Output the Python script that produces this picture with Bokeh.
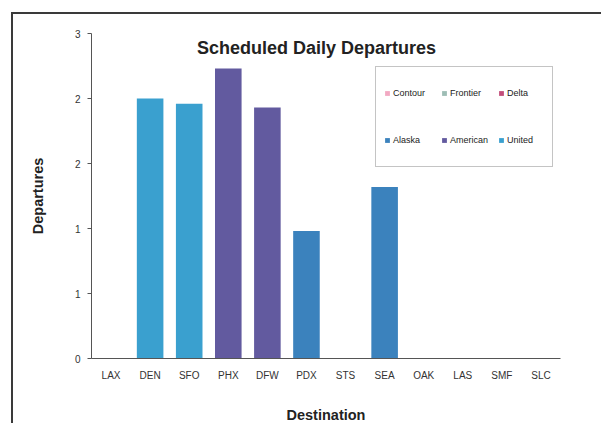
from bokeh.plotting import figure
from bokeh.layouts import column
from bokeh.models import ColumnDataSource, Legend, LegendItem, FixedTicker, Range1d, Div
from bokeh.core.properties import value
from bokeh.embed import file_html
from bokeh.resources import INLINE

destinations = ["LAX", "DEN", "SFO", "PHX", "DFW", "PDX", "STS", "SEA", "OAK", "LAS", "SMF", "SLC"]
airlines = ["Contour", "Frontier", "Delta", "Alaska", "American", "United"]
colors = ["#f2a9c2", "#9dbdb5", "#c24d7a", "#3b82bd", "#625a9f", "#3aa0cf"]

contour = [0, 0, 0, 0, 0, 0, 0, 0, 0, 0, 0, 0]
frontier = [0, 0, 0, 0, 0, 0, 0, 0, 0, 0, 0, 0]
delta = [0, 0, 0, 0, 0, 0, 0, 0, 0, 0, 0, 0]
alaska = [0, 0, 0, 0, 0, 0.98, 0, 1.32, 0, 0, 0, 0]
american = [0, 0, 0, 2.23, 1.93, 0, 0, 0, 0, 0, 0, 0]
united = [0, 2.0, 1.96, 0, 0, 0, 0, 0, 0, 0, 0, 0]

y_ticks = [0, 0.5, 1, 1.5, 2, 2.5]
y_tick_labels = ["0", "1", "1", "2", "2", "3"]

title_text = "Scheduled Daily Departures"
x_title = "Destination"
y_title = "Departures"

FONT = "Liberation Sans"

source = ColumnDataSource(dict(dest=destinations, Contour=contour, Frontier=frontier,
                               Delta=delta, Alaska=alaska, American=american, United=united))

p = figure(x_range=destinations, y_range=Range1d(0, 2.5),
           frame_width=469, frame_height=325, output_backend="svg", toolbar_location=None,
           min_border_left=78, min_border_right=30, min_border_top=19, min_border_bottom=60,
           styles={"box-shadow": "-2px -2px 0 0 #3a3a3a"})
p.margin = (0, 0, 0, 13)
p.outline_line_color = None
p.xgrid.grid_line_color = None
p.ygrid.grid_line_color = None

p.vbar_stack(airlines, x="dest", width=0.68, color=colors, line_color=None, source=source)

# legend proxies (small squares); the legend fills column by column
proxies = {}
for name, c in zip(airlines, colors):
    proxies[name] = p.scatter(x=[destinations[0]], y=[float("nan")], marker="square",
                              fill_color=c, line_color=None)
legend_order = ["Contour", "Alaska", "Frontier", "American", "Delta", "United"]
items = [LegendItem(label=n, renderers=[proxies[n]]) for n in legend_order]

legend = Legend(items=items, orientation="vertical", nrows=2, location=(284, 191),
                padding=5, spacing=5, glyph_width=12, glyph_height=42, label_height=42,
                label_width=40, label_standoff=0,
                label_text_font=FONT, label_text_font_size="9px", label_text_color="#222222",
                border_line_color="#8a8a8a", border_line_width=1, background_fill_alpha=1.0,
                margin=0)
p.add_layout(legend)

# chart title inside plot area
tsrc = ColumnDataSource(dict(x=["PDX"], y=[2.39], t=[title_text]))
p.text(x="x", y="y", text="t", source=tsrc, x_offset=10, text_align="center",
       text_baseline="middle", text_font=value(FONT), text_font_size="18px",
       text_font_style="bold", text_color="#222222")

# y axis
ya = p.yaxis[0]
ya.ticker = FixedTicker(ticks=y_ticks)
ya.major_label_overrides = {t: l for t, l in zip(y_ticks, y_tick_labels)}
ya.minor_tick_line_color = None
ya.major_tick_in = 0
ya.major_tick_out = 4
ya.major_label_standoff = 7
ya.axis_line_color = "#555555"
ya.major_tick_line_color = "#555555"
ya.major_label_text_font = FONT
ya.major_label_text_font_size = "10px"
ya.major_label_text_color = "#333333"
ya.axis_label = y_title
ya.axis_label_text_font = FONT
ya.axis_label_text_font_size = "14.5px"
ya.axis_label_text_font_style = "bold"
ya.axis_label_text_color = "#222222"
ya.axis_label_standoff = 26

# x axis
xa = p.xaxis[0]
xa.major_tick_line_color = None
xa.major_tick_in = 0
xa.major_tick_out = 0
xa.major_label_standoff = 11
xa.axis_line_color = "#555555"
xa.major_label_text_font = FONT
xa.major_label_text_font_size = "10px"
xa.major_label_text_color = "#333333"
xa.axis_label = x_title
xa.axis_label_text_font = FONT
xa.axis_label_text_font_size = "14.5px"
xa.axis_label_text_font_style = "bold"
xa.axis_label_text_color = "#222222"
xa.axis_label_standoff = 23

# top edge of the outer chart border
top_rule = Div(text="", width=590, height=2, styles={"background-color": "#3a3a3a"})
top_rule.margin = (12, 0, 0, 11)

layout = column(top_rule, p, spacing=0)
layout.margin = 0

open("out.html", "w").write(file_html(layout, INLINE))
